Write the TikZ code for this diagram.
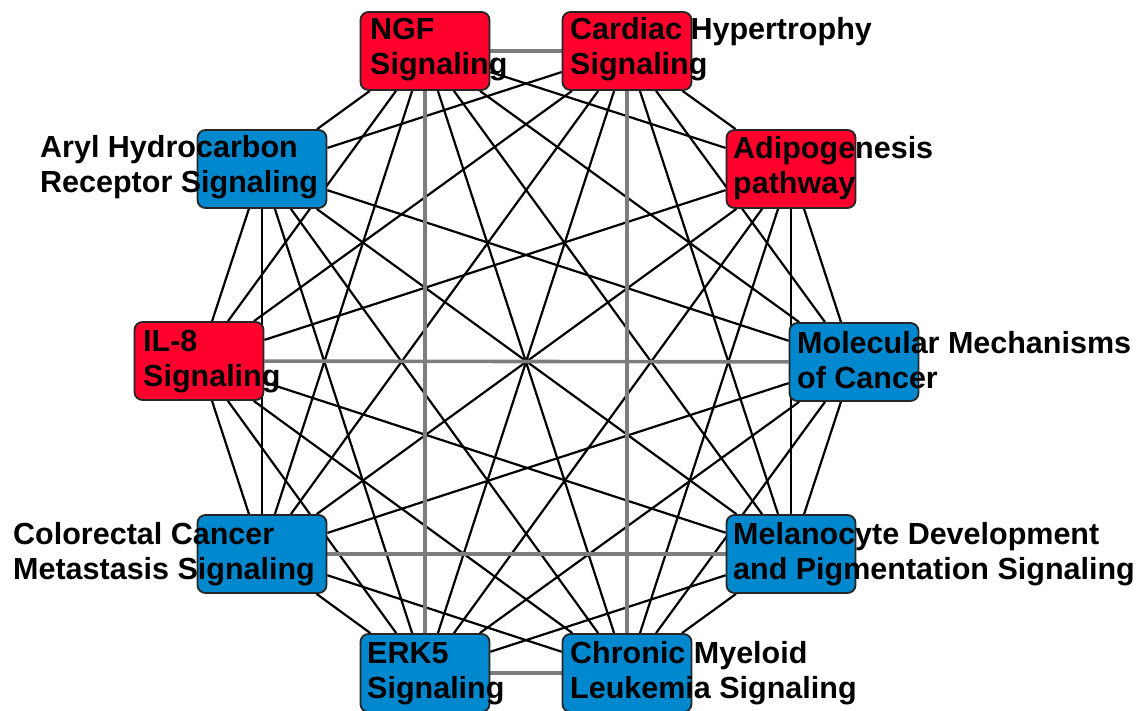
\documentclass[tikz,border=0pt]{standalone}
\usepackage{fontspec}
\setmainfont{Liberation Sans}
\usetikzlibrary{backgrounds}
\definecolor{nodered}{RGB}{255,0,45}
\definecolor{nodeblue}{RGB}{0,136,206}
\definecolor{edgegray}{RGB}{125,125,125}
\tikzset{
  pbox/.style={rounded corners=8pt, draw=black!85, line width=1.8pt, minimum width=129pt, minimum height=78pt, inner sep=0pt},
  redbox/.style={pbox, fill=nodered},
  bluebox/.style={pbox, fill=nodeblue},
  lab/.style={anchor=base west, align=left, inner sep=0pt, font=\fontsize{30.5}{35}\selectfont\bfseries, text=black},
  edge/.style={draw=black, line width=2.2pt},
  gedge/.style={draw=edgegray, line width=3.6pt}
}
\begin{document}
\begin{tikzpicture}[x=1pt,y=-1pt]
\useasboundingbox (0,0) rectangle (1142,711);
% boxes
\node[redbox]  (ngf) at (425,51) {};
\node[redbox]  (car) at (627,51) {};
\node[redbox]  (adi) at (791,169) {};
\node[bluebox] (mol) at (854,362) {};
\node[bluebox] (mel) at (791,554) {};
\node[bluebox] (cml) at (627,673) {};
\node[bluebox] (erk) at (425,673) {};
\node[bluebox] (col) at (262,554) {};
\node[redbox]  (il8) at (199,361) {};
\node[bluebox] (ary) at (262,169) {};
% edges
\begin{scope}[on background layer]
\foreach \b in {adi,mol,mel,cml,col,il8,ary} \draw[edge] (ngf) -- (\b);
\foreach \b in {adi,mol,mel,erk,col,il8,ary} \draw[edge] (car) -- (\b);
\foreach \b in {mol,mel,cml,erk,col,il8} \draw[edge] (adi) -- (\b);
\foreach \b in {mel,cml,erk,col,ary} \draw[edge] (mol) -- (\b);
\foreach \b in {cml,erk,il8,ary} \draw[edge] (mel) -- (\b);
\foreach \b in {col,il8,ary} \draw[edge] (cml) -- (\b);
\foreach \b in {col,il8,ary} \draw[edge] (erk) -- (\b);
\foreach \b in {il8,ary} \draw[edge] (col) -- (\b);
\draw[edge] (il8) -- (ary);
\draw[gedge] (ngf) -- (car);
\draw[gedge] (ngf) -- (erk);
\draw[gedge] (car) -- (cml);
\draw[gedge] (il8) -- (mol);
\draw[gedge] (col) -- (mel);
\draw[gedge] (erk) -- (cml);
\end{scope}
% labels (anchor = baseline of the second line)
\node[lab] (ngflab) at (370,75) {NGF\\Signaling};
\node[lab] (carlab) at (570,75) {Cardiac Hypertrophy\\Signaling};
\node[lab] (adilab) at (733,194) {Adipogenesis\\pathway};
\node[lab] (mollab) at (797,388) {Molecular Mechanisms\\of Cancer};
\node[lab] (mellab) at (733,579) {Melanocyte Development\\and Pigmentation Signaling};
\node[lab] (cmllab) at (570,698) {Chronic Myeloid\\Leukemia Signaling};
\node[lab] (erklab) at (367,698) {ERK5\\Signaling};
\node[lab] (collab) at (13,579) {Colorectal Cancer\\Metastasis Signaling};
\node[lab] (il8lab) at (143,386) {IL-8\\Signaling};
\node[lab] (arylab) at (40,193) {Aryl Hydrocarbon\\Receptor Signaling};
\end{tikzpicture}
\end{document}
